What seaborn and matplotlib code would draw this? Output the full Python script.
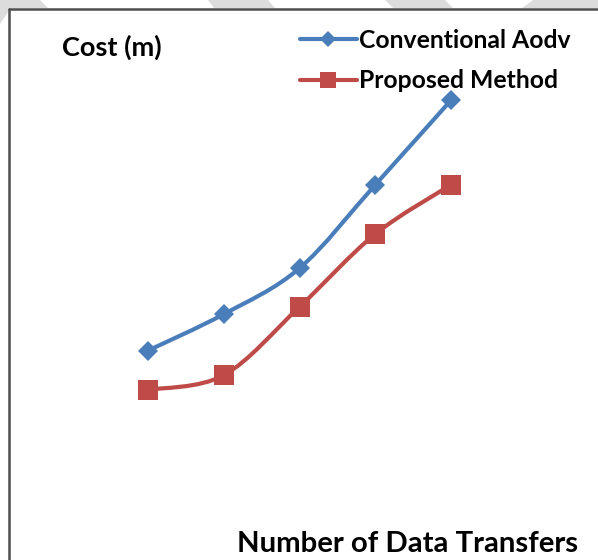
import matplotlib
matplotlib.use("Agg")
import matplotlib.pyplot as plt
from matplotlib.lines import Line2D
from matplotlib.patches import Polygon, PathPatch
from matplotlib.path import Path
import seaborn as sns
import pandas as pd

# ---- data -------------------------------------------------------------
transfers = [1, 2, 3, 4, 5]
conventional_aodv = [37.4, 43.9, 52.1, 67.0, 82.1]
proposed_method = [30.4, 33.0, 45.2, 58.2, 67.0]
series_names = ["Conventional Aodv", "Proposed Method"]
y_label = "Cost (m)"
x_label = "Number of Data Transfers"

BLUE = "#4a7ebb"
RED = "#be4b48"

sns.set_theme(style="white")
plt.rcParams["font.family"] = ["Lato", "DejaVu Sans"]
plt.rcParams["text.color"] = "black"

W, H = 598, 560
fig = plt.figure(figsize=(W / 100, H / 100), dpi=100)
ax = fig.add_axes([0, 0, 1, 1])
ax.set_xlim(1 - 148 / 75.75, 1 + 450 / 75.75)
ax.set_ylim(0, 100)
ax.axis("off")


def smooth_path(xs, ys):
    """Bezier path through the points (Catmull-Rom style tangents)."""
    pts = list(zip(xs, ys))
    n = len(pts)
    verts = [pts[0]]
    codes = [Path.MOVETO]
    for i in range(n - 1):
        p0 = pts[i - 1] if i > 0 else pts[i]
        p1 = pts[i]
        p2 = pts[i + 1]
        p3 = pts[i + 2] if i + 2 < n else pts[i + 1]
        c1 = (p1[0] + (p2[0] - p0[0]) / 6, p1[1] + (p2[1] - p0[1]) / 6)
        c2 = (p2[0] - (p3[0] - p1[0]) / 6, p2[1] - (p3[1] - p1[1]) / 6)
        verts += [c1, c2, p2]
        codes += [Path.CURVE4] * 3
    return Path(verts, codes)


df = pd.DataFrame({
    "transfers": transfers * 2,
    "cost": conventional_aodv + proposed_method,
    "series": [series_names[0]] * len(transfers) + [series_names[1]] * len(transfers),
})

for name, color, marker, ms in [(series_names[0], BLUE, "D", 10.5),
                                (series_names[1], RED, "s", 15)]:
    sub = df[df["series"] == name]
    ax.add_patch(PathPatch(smooth_path(sub["transfers"].tolist(), sub["cost"].tolist()),
                           facecolor="none", edgecolor=color, lw=3, zorder=2,
                           capstyle="round", joinstyle="round"))
    sns.lineplot(data=sub, x="transfers", y="cost", ax=ax, color=color,
                 marker=marker, markersize=ms, linestyle="", markeredgewidth=0,
                 legend=False, zorder=3)

handles = [Line2D([], [], color=BLUE, lw=3, marker="D", ms=8, mew=0),
           Line2D([], [], color=RED, lw=3, marker="s", ms=12, mew=0)]
fig.legend(handles, series_names, loc="upper left",
           bbox_to_anchor=(300 / W, 1 - 29 / H), frameon=False,
           handlelength=2.3, handletextpad=0.1,
           labelspacing=0.7, borderpad=0, borderaxespad=0,
           prop={"weight": "bold", "size": 17.8})

fig.text(62 / W, 1 - 47 / H, y_label, fontsize=19.5, fontweight="bold",
         ha="left", va="center")
fig.text(237 / W, 1 - 544 / H, x_label, fontsize=21.2, fontweight="bold",
         ha="left", va="center")

# frame lines along the top and left
fig.add_artist(Line2D([8.5 / W, 1], [1 - 9 / H, 1 - 9 / H], color="#4d4d4d", lw=1.8,
                      transform=fig.transFigure))
fig.add_artist(Line2D([8.5 / W, 8.5 / W], [0, 1 - 9 / H], color="#4d4d4d", lw=1.8,
                      transform=fig.transFigure))

# light diagonal bands in the top margin
bands = [
    [(0, 0), (40, 0), (48, 8), (8, 8), (8, 12), (0, 24)],
    [(208, 0), (268, 0), (275, 8), (214, 8)],
    [(385, 0), (445, 0), (453, 8), (393, 8)],
    [(533, 0), (598, 0), (598, 8), (522, 8)],
]
for poly in bands:
    fig.add_artist(Polygon([(x / W, 1 - y / H) for x, y in poly], closed=True,
                           facecolor="#dcdcdc", edgecolor="none",
                           transform=fig.transFigure, zorder=0))

fig.savefig("out.png", dpi=100)
